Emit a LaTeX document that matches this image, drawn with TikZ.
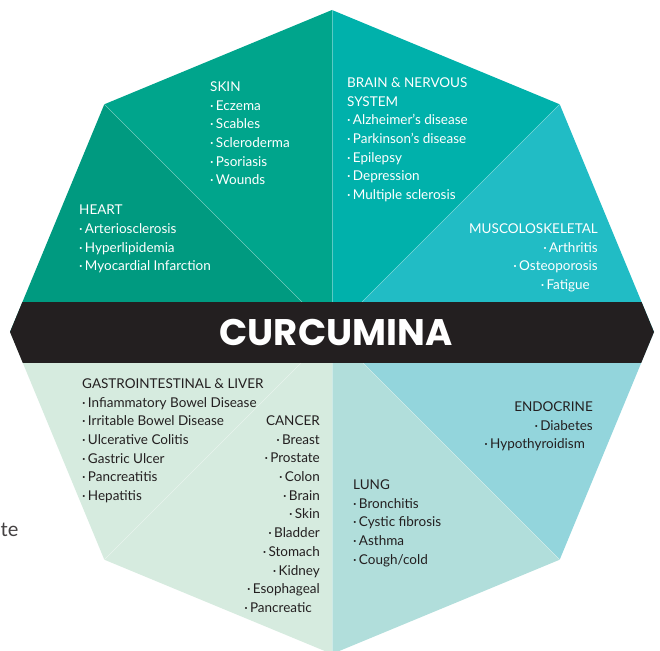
\documentclass[tikz,border=0pt]{standalone}
\usepackage{fontspec}
\setmainfont{Lato}
\newfontfamily\titlefont{Poppins}
\definecolor{myheart}{HTML}{009A80}
\definecolor{myskin}{HTML}{00A58C}
\definecolor{mybrain}{HTML}{00B1AB}
\definecolor{mymuscle}{HTML}{21BCC5}
\definecolor{myendo}{HTML}{93D5DC}
\definecolor{mylung}{HTML}{B1DEDB}
\definecolor{mygut}{HTML}{D6EBDF}
\definecolor{myband}{HTML}{231F20}
\newcommand{\itm}[1]{·\,#1}
\newcommand{\ritm}[1]{·\,#1\hspace*{8pt}}

\begin{document}
\begin{tikzpicture}[x=1pt,y=-1pt]
\tikzset{divider/.style ={draw=white, opacity=0.35, line width=0.5pt}}
\tikzset{GroupStyle/.style ={inner sep=0, font=\fontsize{13.5}{18.7}\selectfont}}
\tikzset{LightGroup/.style ={GroupStyle, text=white}}
\tikzset{DarkGroup/.style ={GroupStyle, text=myband}}
\useasboundingbox (0,0) rectangle (660,650);
\coordinate (c) at (332,332);
\foreach \i in {0,...,7}
  \coordinate (v\i) at ({332+322*cos(-90+45*\i)},{332+322*sin(-90+45*\i)});
\foreach \i/\col in {0/mybrain,1/mymuscle,2/myendo,3/mylung,4/mygut,5/mygut,6/myheart,7/myskin}{
  \pgfmathtruncatemacro{\j}{mod(\i+1,8)}
  \fill[\col] (c) -- (v\i) -- (v\j) -- cycle;
}
\foreach \i in {0,...,7}
  \draw[divider] (c) -- (v\i);
\begin{scope}
\clip (v0) -- (v1) -- (v2) -- (v3) -- (v4) -- (v5) -- (v6) -- (v7) -- cycle;
\fill[myband] (0,302) rectangle (660,363);
\end{scope}
\node[font=\titlefont\bfseries\fontsize{37}{37}\selectfont, text=white] (title) at (336,332) {CURCUMINA};
\node[LightGroup, anchor=north west, align=left] (skin) at (210,81.5)
  {SKIN\\ \itm{Eczema}\\ \itm{Scables}\\ \itm{Scleroderma}\\ \itm{Psoriasis}\\ \itm{Wounds}};
\node[LightGroup, anchor=north west, align=left] (heart) at (79,205)
  {HEART\\ \itm{Arteriosclerosis}\\ \itm{Hyperlipidemia}\\ \itm{Myocardial Infarction}};
\node[LightGroup, anchor=north west, align=left] (brain) at (347,77.5)
  {BRAIN \& NERVOUS\\ SYSTEM\\ \itm{Alzheimer’s disease}\\ \itm{Parkinson’s disease}\\ \itm{Epilepsy}\\ \itm{Depression}\\ \itm{Multiple sclerosis}};
\node[LightGroup, anchor=north east, align=right] (muscle) at (598,223.5)
  {MUSCOLOSKELETAL\\ \ritm{Arthritis}\\ \ritm{Osteoporosis}\\ \ritm{Fatigue}};
\node[DarkGroup, anchor=north west, align=left] (gut) at (82,378.5)
  {GASTROINTESTINAL \& LIVER\\ \itm{Infiammatory Bowel Disease}\\ \itm{Irritable Bowel Disease}\\ \itm{Ulcerative Colitis}\\ \itm{Gastric Ulcer}\\ \itm{Pancreatitis}\\ \itm{Hepatitis}};
\node[DarkGroup, anchor=north east, align=right] (cancer) at (320,415.5)
  {CANCER\\ \ritm{Breast}\\ \ritm{Prostate}\\ \ritm{Colon}\\ \ritm{Brain}\\ \ritm{Skin}\\ \ritm{Bladder}\\ \ritm{Stomach}\\ \ritm{Kidney}\\ \ritm{Esophageal}\\ \ritm{Pancreatic}};
\node[DarkGroup, anchor=north east, align=right] (endo) at (593,401.5)
  {ENDOCRINE\\ \ritm{Diabetes}\\ \ritm{Hypothyroidism}};
\node[DarkGroup, anchor=north west, align=left] (lung) at (353,479.5)
  {LUNG\\ \itm{Bronchitis}\\ \itm{Cystic fibrosis}\\ \itm{Asthma}\\ \itm{Cough/cold}};
\node[font=\fontsize{20}{20}\selectfont, text=myband!85, anchor=base west, inner sep=0] (cut) at (0.5,536) {te};
\end{tikzpicture}
\end{document}
